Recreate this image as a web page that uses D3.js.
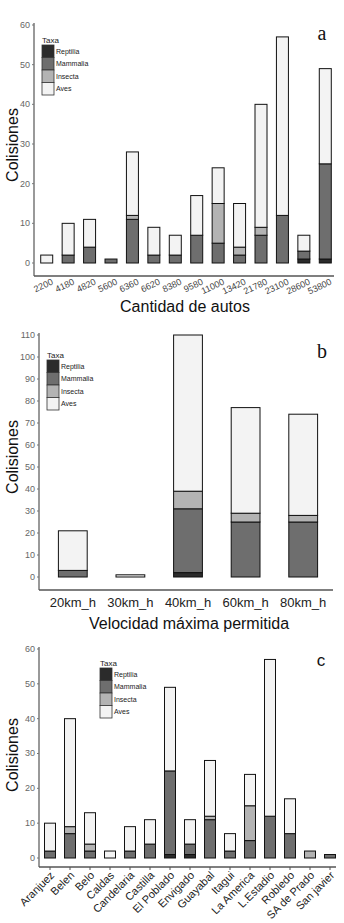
<!DOCTYPE html>
<html>
<head>
<meta charset="utf-8">
<script src="https://cdn.jsdelivr.net/npm/d3@7"></script>
<style>
  body { margin: 0; background: #fff; }
  svg { display: block; font-family: "Liberation Sans", Arial, sans-serif; }
</style>
</head>
<body>
<div id="chart"></div>
<script>
// taxa, bottom to top of each stack
const taxa = ["Reptilia", "Mammalia", "Insecta", "Aves"];
const taxaColors = ["#2b2b2b", "#6e6e6e", "#b3b3b3", "#f3f3f3"];

// panel a - cantidad de autos
const autos = ["2200", "4180", "4820", "5600", "6360", "6620", "8380", "9580", "11000", "13420", "21780", "23100", "28600", "53800"];
const autosReptilia = [0, 0, 0, 0, 0, 0, 0, 0, 0, 0, 0, 0, 1, 1];
const autosMammalia = [0, 2, 4, 1, 11, 2, 2, 7, 5, 2, 7, 12, 2, 24];
const autosInsecta  = [0, 0, 0, 0, 1, 0, 0, 0, 10, 2, 2, 0, 0, 0];
const autosAves     = [2, 8, 7, 0, 16, 7, 5, 10, 9, 11, 31, 45, 4, 24];
const autosTicks = [0, 10, 20, 30, 40, 50, 60];

// panel b - velocidad maxima
const velocidad = ["20km_h", "30km_h", "40km_h", "60km_h", "80km_h"];
const velReptilia = [0, 0, 2, 0, 0];
const velMammalia = [3, 0, 29, 25, 25];
const velInsecta  = [0, 0, 8, 4, 3];
const velAves     = [18, 1, 71, 48, 46];
const velTicks = [0, 10, 20, 30, 40, 50, 60, 70, 80, 90, 100, 110];

// panel c - barrios
const barrios = ["Aranjuez", "Belen", "Belo", "Caldas", "Candelaria", "Castilla", "El Poblado", "Envigado", "Guayabal", "Itagui", "La America", "L.Estadio", "Robledo", "SA de Prado", "San javier"];
const barReptilia = [0, 0, 0, 0, 0, 0, 1, 1, 0, 0, 0, 0, 0, 0, 0];
const barMammalia = [2, 7, 2, 0, 2, 4, 24, 3, 11, 2, 5, 12, 7, 0, 1];
const barInsecta  = [0, 2, 2, 0, 0, 0, 0, 0, 1, 0, 10, 0, 0, 2, 0];
const barAves     = [8, 31, 9, 2, 7, 7, 24, 7, 16, 5, 9, 45, 10, 0, 0];
const barTicks = [0, 10, 20, 30, 40, 50, 60];

const width = 344, height = 923;
const svg = d3.select("#chart").append("svg")
  .attr("width", width)
  .attr("height", height);

function toRows(cats, r, m, i, a) {
  return cats.map((c, k) => ({ cat: c, Reptilia: r[k], Mammalia: m[k], Insecta: i[k], Aves: a[k] }));
}

function drawPanel(opt) {
  const g = svg.append("g");
  const rows = toRows(opt.cats, opt.r, opt.m, opt.i, opt.a);

  const x = d3.scaleBand()
    .domain(opt.cats)
    .range(opt.xRange)
    .paddingInner(opt.pad)
    .paddingOuter(opt.pad / 2);
  const y = d3.scaleLinear()
    .domain([0, d3.max(opt.ticks)])
    .range(opt.yRange);

  // axes lines
  g.append("line")
    .attr("x1", opt.axisX).attr("x2", opt.axisX)
    .attr("y1", y(d3.max(opt.ticks)) - 2).attr("y2", opt.axisY)
    .attr("stroke", "#777").attr("stroke-width", 1.5);
  g.append("line")
    .attr("x1", opt.axisX).attr("x2", opt.xEnd)
    .attr("y1", opt.axisY).attr("y2", opt.axisY)
    .attr("stroke", "#555").attr("stroke-width", 1.5);

  // y ticks
  const yt = g.append("g").selectAll("g").data(opt.ticks).enter().append("g")
    .attr("transform", d => `translate(${opt.axisX},${y(d)})`);
  yt.append("line").attr("x1", -2).attr("x2", 0).attr("stroke", "#777");
  yt.append("text")
    .attr("x", -4).attr("dy", "0.32em")
    .attr("text-anchor", "end")
    .attr("font-size", 9).attr("fill", "#666")
    .text(d => d);

  // stacked bars
  const series = d3.stack().keys(taxa)(rows);
  g.append("g").selectAll("g").data(series).enter().append("g")
    .attr("fill", (d, k) => taxaColors[k])
    .selectAll("rect")
    .data(d => d.filter(v => v[1] - v[0] > 0))
    .enter().append("rect")
    .attr("x", d => x(d.data.cat))
    .attr("width", x.bandwidth())
    .attr("y", d => y(d[1]))
    .attr("height", d => y(d[0]) - y(d[1]))
    .attr("stroke", "#111")
    .attr("stroke-width", 1);

  // x tick labels
  const xt = g.append("g").selectAll("text").data(opt.cats).enter().append("text")
    .attr("font-size", opt.xFont)
    .attr("fill", opt.xColor)
    .text(d => d);
  if (opt.rotate) {
    xt.attr("text-anchor", "end")
      .attr("transform", d => `translate(${x(d) + x.bandwidth() / 2 + opt.lblDx},${opt.axisY + opt.lblDy}) rotate(${opt.rotate})`);
  } else {
    xt.attr("text-anchor", "middle")
      .attr("x", d => x(d) + x.bandwidth() / 2)
      .attr("y", opt.axisY + opt.lblDy);
  }
  if (opt.xTicks) {
    g.append("g").selectAll("line").data(opt.cats).enter().append("line")
      .attr("x1", d => x(d) + x.bandwidth() / 2)
      .attr("x2", d => x(d) + x.bandwidth() / 2)
      .attr("y1", opt.axisY).attr("y2", opt.axisY + 3)
      .attr("stroke", "#555");
  }

  // axis titles
  g.append("text")
    .attr("transform", `translate(18,${opt.yTitleY}) rotate(-90)`)
    .attr("text-anchor", "middle")
    .attr("font-size", 16).attr("fill", "#111")
    .text("Colisiones");
  if (opt.xTitle) {
    g.append("text")
      .attr("x", opt.xTitleX).attr("y", opt.xTitleY)
      .attr("text-anchor", "middle")
      .attr("font-size", 16).attr("fill", "#111")
      .text(opt.xTitle);
  }

  // legend
  const lg = g.append("g").attr("transform", `translate(${opt.legend[0]},${opt.legend[1]})`);
  lg.append("text").attr("x", 0).attr("y", -2).attr("font-size", 8).attr("fill", "#222").text("Taxa");
  const li = lg.selectAll("g").data(taxa).enter().append("g")
    .attr("transform", (d, k) => `translate(0,${k * 12.5})`);
  li.append("rect")
    .attr("width", 12).attr("height", 12.5)
    .attr("fill", (d, k) => taxaColors[k])
    .attr("stroke", "#333").attr("stroke-width", 0.8);
  li.append("text")
    .attr("x", 14).attr("y", 8.5)
    .attr("font-size", 7).attr("fill", "#222")
    .text(d => d);

  // panel letter
  g.append("text")
    .attr("x", opt.letter[0]).attr("y", opt.letter[1])
    .attr("text-anchor", "middle")
    .attr("font-family", opt.letterFont)
    .attr("font-size", opt.letterSize).attr("fill", "#111")
    .text(opt.letterText);
}

drawPanel({
  cats: autos, r: autosReptilia, m: autosMammalia, i: autosInsecta, a: autosAves,
  ticks: autosTicks, xRange: [36, 336], pad: 0.44, yRange: [263, 25],
  axisX: 34, axisY: 276, xEnd: 334,
  xFont: 9, xColor: "#444", rotate: -25, lblDx: 7, lblDy: 8,
  yTitleY: 145, xTitle: "Cantidad de autos", xTitleX: 185, xTitleY: 312,
  legend: [42, 45], letter: [322, 40], letterText: "a",
  letterFont: "'Liberation Serif', 'DejaVu Serif', serif", letterSize: 20
});

drawPanel({
  cats: velocidad, r: velReptilia, m: velMammalia, i: velInsecta, a: velAves,
  ticks: velTicks, xRange: [44, 332], pad: 0.5, yRange: [577, 335],
  axisX: 39, axisY: 590, xEnd: 333,
  xFont: 13, xColor: "#222", rotate: 0, lblDy: 17,
  yTitleY: 457, xTitle: "Velocidad máxima permitida", xTitleX: 189, xTitleY: 629,
  legend: [47, 360], letter: [322, 358], letterText: "b",
  letterFont: "'Liberation Serif', 'DejaVu Serif', serif", letterSize: 20
});

drawPanel({
  cats: barrios, r: barReptilia, m: barMammalia, i: barInsecta, a: barAves,
  ticks: barTicks, xRange: [40, 340], pad: 0.45, yRange: [858, 649],
  axisX: 39, axisY: 867, xEnd: 336, xTicks: true,
  xFont: 11, xColor: "#222", rotate: -45, lblDx: 5, lblDy: 9,
  yTitleY: 755,
  legend: [100, 668], letter: [321, 666], letterText: "c",
  letterFont: "'Liberation Sans', Arial, sans-serif", letterSize: 17
});
</script>
</body>
</html>
